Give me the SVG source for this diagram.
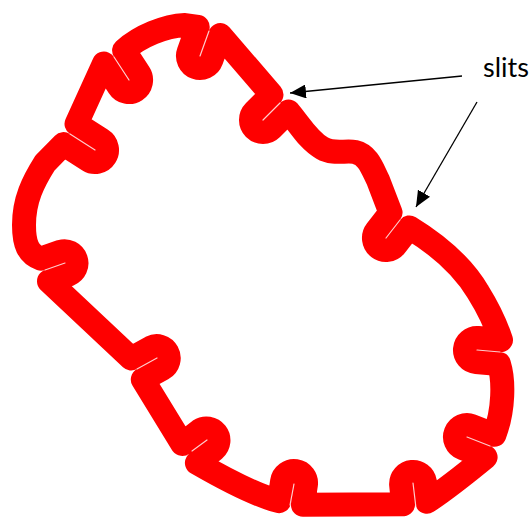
<svg xmlns="http://www.w3.org/2000/svg" width="529" height="520" viewBox="0 0 529 520">
<defs>
<style>
.m{fill:none;stroke:#fe0000;stroke-width:24;stroke-linecap:round;stroke-linejoin:round}
.s{stroke:#fff;stroke-width:1.2;stroke-linecap:round;opacity:0.8}
.a{stroke:#000;stroke-width:1.3;fill:none}
.t{font-family:Lato,"Liberation Sans",sans-serif;font-size:27px;fill:#000}
</style>
<marker id="ah" viewBox="0 0 16 14" refX="16" refY="7" markerWidth="16" markerHeight="14" markerUnits="userSpaceOnUse" orient="auto"><path d="M0,0 L16,7 L0,14 z" fill="#000"/></marker>
</defs>
<rect width="529" height="520" fill="#fff"/>
<g id="membrane">
<path class="m" d="M63.5,144.1 L88.5,160.1 A12 12 0 0 0 101.5,139.9 L76.5,123.9 L103.9,63.6 L118.9,86.6 A12 12 0 0 0 139.1,73.4 L124.1,50.4 C140,36 165,26 185,25 L197.7,26.9 L188.7,51.9 A12 12 0 0 0 211.3,60.1 L220.3,35.1 L271.5,94.5 L254.5,111.5 A12 12 0 0 0 271.5,128.5 L288.5,111.5 C300,125 308,140 322,148 C334,155 345,150 355,152 C368,155 372,168 378,180 L390.5,212.6 L376.5,230.6 A12 12 0 0 0 395.5,245.4 L409.5,227.4 C435,243 462,265 478,292 C488,308 496,325 501,340 L478,338 A12 12 0 0 0 476,362 L499,364 C504,380 504,410 494.4,434.8 L471.4,425.8 A12 12 0 0 0 462.6,448.2 L485.6,457.2 C470,470 445,490 426.9,501.8 L424.9,481.8 A12 12 0 0 0 401.1,484.2 L403.1,504.2 L302.9,504.8 L305.9,484.8 A12 12 0 0 0 282.1,481.2 L279.1,501.2 C262,497 230,482 196.9,462.9 L214.3,449.5 A12 12 0 0 0 199.7,430.5 L182.3,443.9 L142.8,379.5 L162.8,368.5 A12 12 0 0 0 151.2,347.5 L131.2,358.5 L49,281.3 L69,274.3 A12 12 0 0 0 61,251.7 L41,258.7 C28,254 24,244 24,225 C24,200 33,182 45,163 Z"/>
</g>
<g id="slits">
<line class="s" x1="95" y1="150" x2="70" y2="134"/>
<line class="s" x1="129" y1="80" x2="114" y2="57"/>
<line class="s" x1="200" y1="56" x2="209" y2="31"/>
<line class="s" x1="263" y1="120" x2="280" y2="103"/>
<line class="s" x1="386" y1="238" x2="400" y2="220"/>
<line class="s" x1="477" y1="350" x2="500" y2="352"/>
<line class="s" x1="467" y1="437" x2="490" y2="446"/>
<line class="s" x1="413" y1="483" x2="416" y2="508"/>
<line class="s" x1="294" y1="484" x2="290" y2="505"/>
<line class="s" x1="207" y1="440" x2="192" y2="451"/>
<line class="s" x1="157" y1="358" x2="137" y2="369"/>
<line class="s" x1="65" y1="263" x2="45" y2="270"/>
</g>
<g id="label"><text class="t" x="483" y="77">slits</text></g>
<g id="connectors">
<line class="a" x1="462" y1="76" x2="290" y2="93" marker-end="url(#ah)"/>
<line class="a" x1="477" y1="102" x2="416" y2="207" marker-end="url(#ah)"/>
</g>
</svg>
